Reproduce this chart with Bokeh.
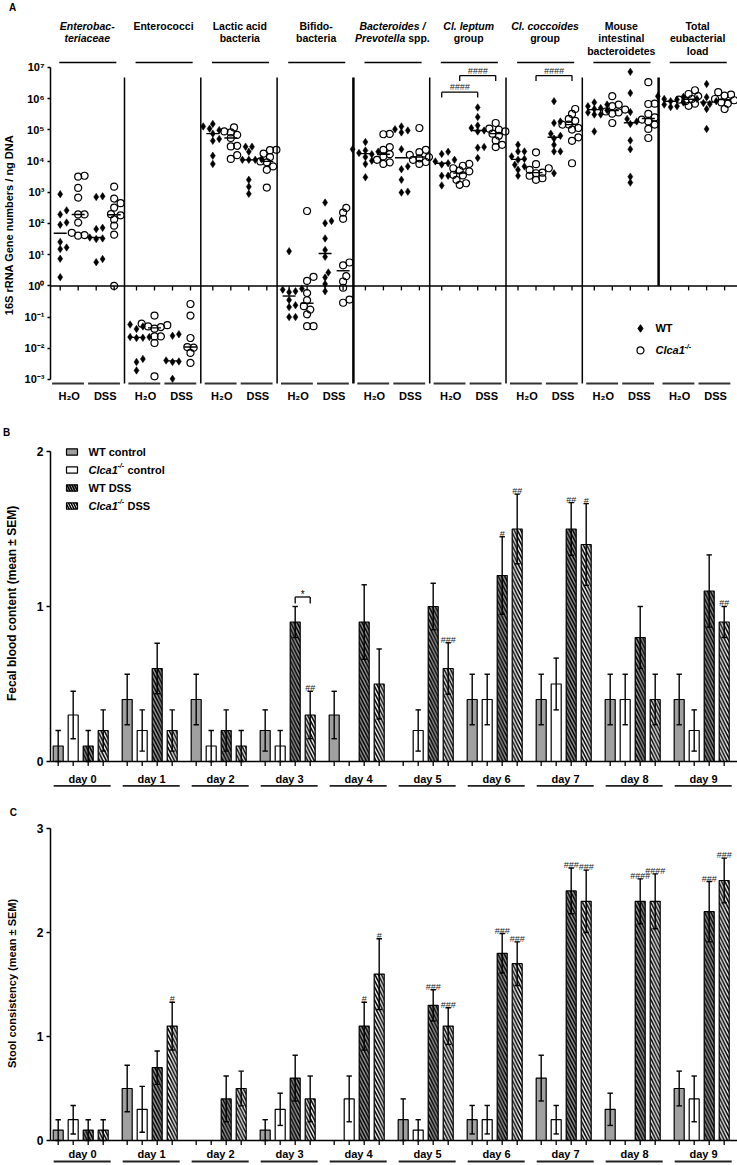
import numpy as np
from bokeh.plotting import figure
from bokeh.layouts import column
from bokeh.models import Range1d, FixedTicker, CustomJSTickFormatter
from bokeh.core.properties import value
from bokeh.embed import file_html
from bokeh.resources import INLINE

FONT = "Liberation Sans"

# ---------------- Panel A data: log10(16S rRNA gene numbers / ng DNA) ----------------
# each taxon: [WT H2O, Clca1-/- H2O, WT DSS, Clca1-/- DSS]
ENTEROBACTERIACEAE = [
    [2.94, 2.42, 2.29, 2.03, 1.96, 1.41, 1.23, 1.18, 0.87, 0.28],
    [3.53, 3.50, 3.14, 2.83, 2.29, 2.29, 2.03, 1.70, 1.63, 1.61],
    [2.87, 2.85, 1.86, 1.82, 1.55, 1.52, 1.50, 0.86, 0.76],
    [3.18, 2.80, 2.65, 2.51, 2.30, 2.26, 2.13, 1.93, 1.64, 0.00],
]
ENTEROCOCCI = [
    [-1.24, -1.30, -1.38, -1.64, -1.64, -1.66, -1.67, -2.34, -2.44, -2.71],
    [-0.95, -1.21, -1.26, -1.30, -1.32, -1.37, -1.62, -1.62, -1.83, -2.90],
    [-1.55, -1.60, -2.39, -2.42, -2.44, -2.98],
    [-0.58, -0.95, -1.67, -1.96, -1.98, -2.15, -2.47],
]
LACTIC_ACID_BACTERIA = [
    [5.19, 5.11, 5.04, 4.99, 4.88, 4.71, 4.65, 4.17, 3.91],
    [5.08, 4.95, 4.92, 4.84, 4.74, 4.49, 4.47, 4.19, 4.07],
    [4.46, 4.46, 4.30, 4.06, 4.04, 4.04, 4.04, 3.40, 3.18, 2.95],
    [4.36, 4.35, 4.24, 4.13, 3.99, 3.96, 3.83, 3.72, 3.15],
]
BIFIDOBACTERIA = [
    [1.11, -0.09, -0.12, -0.17, -0.20, -0.45, -0.62, -0.68, -1.00, -1.00],
    [2.40, 0.29, 0.16, -0.23, -0.46, -0.65, -0.76, -0.91, -1.29, -1.29],
    [2.67, 2.08, 2.01, 1.52, 1.15, 0.93, 0.43, 0.27, 0.06, -0.17],
    [2.50, 2.35, 2.15, 0.75, 0.66, 0.31, 0.14, -0.06, -0.44, -0.54],
]
BACTEROIDES_PREVOTELLA = [
    [4.61, 4.38, 4.34, 4.30, 4.26, 4.22, 4.13, 4.01, 3.91, 3.48],
    [4.87, 4.86, 4.45, 4.36, 4.22, 4.15, 4.04, 3.96, 3.91],
    [5.11, 5.02, 4.98, 4.92, 4.38, 3.83, 3.74, 3.40, 3.02, 2.99],
    [5.06, 4.36, 4.29, 4.20, 4.13, 4.09, 4.04, 3.97, 3.91],
]
CL_LEPTUM = [
    [4.30, 4.23, 4.04, 3.99, 3.93, 3.89, 3.53, 3.53, 3.22],
    [3.91, 3.85, 3.77, 3.70, 3.67, 3.56, 3.54, 3.40, 3.29, 3.24],
    [5.72, 5.41, 5.14, 5.06, 4.98, 4.95, 4.45, 4.43, 4.10],
    [5.22, 5.04, 5.01, 4.95, 4.88, 4.81, 4.66, 4.52, 4.45],
]
CL_COCCOIDES = [
    [4.52, 4.31, 4.31, 4.15, 4.07, 4.04, 3.88, 3.83, 3.72, 3.53],
    [4.28, 3.90, 3.77, 3.72, 3.63, 3.61, 3.53, 3.45, 3.40],
    [5.92, 5.27, 5.22, 4.88, 4.81, 4.72, 4.52, 4.31, 4.31, 3.61],
    [5.67, 5.51, 5.35, 5.29, 5.17, 5.17, 5.06, 5.01, 4.76, 4.65, 3.93],
]
MOUSE_BACTEROIDETES = [
    [5.88, 5.81, 5.76, 5.70, 5.67, 5.63, 5.56, 5.49, 5.49, 4.95],
    [6.08, 5.81, 5.76, 5.65, 5.59, 5.56, 5.52, 5.22],
    [6.86, 6.18, 5.57, 5.35, 5.27, 5.19, 4.66, 4.38, 3.50, 3.31],
    [6.53, 5.84, 5.83, 5.51, 5.40, 5.33, 5.27, 5.17, 5.03, 4.74],
]
TOTAL_EUBACTERIA = [
    [6.08, 6.06, 5.99, 5.97, 5.92, 5.88, 5.81, 5.76, 5.73],
    [6.27, 6.15, 6.08, 5.99, 5.97, 5.92, 5.84, 5.77],
    [6.47, 6.05, 5.99, 5.92, 5.86, 5.83, 5.67, 5.03],
    [6.21, 6.13, 6.10, 5.99, 5.95, 5.88, 5.84, 5.67],
]
TAXA = [ENTEROBACTERIACEAE, ENTEROCOCCI, LACTIC_ACID_BACTERIA, BIFIDOBACTERIA,
        BACTEROIDES_PREVOTELLA, CL_LEPTUM, CL_COCCOIDES, MOUSE_BACTEROIDETES, TOTAL_EUBACTERIA]
TAXON_TITLES = [
    [[("Enterobac-", "bold italic")], [("teriaceae", "bold italic")]],
    [[("Enterococci", "bold")]],
    [[("Lactic acid", "bold")], [("bacteria", "bold")]],
    [[("Bifido-", "bold")], [("bacteria", "bold")]],
    [[("Bacteroides /", "bold italic")], [("Prevotella", "bold italic"), ("spp.", "bold")]],
    [[("Cl. leptum", "bold italic")], [("group", "bold")]],
    [[("Cl. coccoides", "bold italic")], [("group", "bold")]],
    [[("Mouse", "bold")], [("intestinal", "bold")], [("bacteroidetes", "bold")]],
    [[("Total", "bold")], [("eubacterial", "bold")], [("load", "bold")]],
]
CONDITIONS = ["H\u2082O", "DSS"]
Y_TICKS_A = [10.0 ** e for e in range(-3, 8)]
Y_TICK_LABELS_A = ["10\u207b\u00b3", "10\u207b\u00b2", "10\u207b\u00b9", "10\u2070", "10\u00b9",
                   "10\u00b2", "10\u00b3", "10\u2074", "10\u2075", "10\u2076", "10\u2077"]
Y_LABEL_A = "16S rRNA Gene numbers / ng DNA"
# (taxon index, column from, column to, label, tier)
SIG_A = [(5, 0, 2, "####", 0), (5, 1, 3, "####", 1), (6, 1, 3, "####", 1)]

# ---------------- Panels B / C data ----------------
DAYS = ["day 0", "day 1", "day 2", "day 3", "day 4", "day 5", "day 6", "day 7", "day 8", "day 9"]
SERIES = ["WT control", "Clca1 control", "WT DSS", "Clca1 DSS"]

BLOOD_MEAN = [
    [0.1, 0.4, 0.4, 0.2, 0.3, 0.0, 0.4, 0.4, 0.4, 0.4],
    [0.3, 0.2, 0.1, 0.1, 0.0, 0.2, 0.4, 0.5, 0.4, 0.2],
    [0.1, 0.6, 0.2, 0.9, 0.9, 1.0, 1.2, 1.5, 0.8, 1.1],
    [0.2, 0.2, 0.1, 0.3, 0.5, 0.6, 1.5, 1.4, 0.4, 0.9],
]
BLOOD_SEM = [
    [0.1, 0.163, 0.163, 0.133, 0.153, 0.0, 0.163, 0.163, 0.163, 0.163],
    [0.153, 0.133, 0.1, 0.1, 0.0, 0.133, 0.163, 0.167, 0.163, 0.133],
    [0.1, 0.163, 0.133, 0.1, 0.24, 0.15, 0.25, 0.17, 0.2, 0.233],
    [0.133, 0.133, 0.1, 0.153, 0.226, 0.166, 0.225, 0.264, 0.163, 0.1],
]
BLOOD_SIG = [(3, 3, "##"), (5, 3, "###"), (6, 2, "#"), (6, 3, "##"), (7, 2, "##"), (7, 3, "#"), (9, 3, "##")]
BLOOD_BRACKETS = [(3, 2, 3, "*")]
BLOOD_LABEL = "Fecal blood content (mean \u00b1 SEM)"

STOOL_MEAN = [
    [0.1, 0.5, 0.0, 0.1, 0.0, 0.2, 0.2, 0.6, 0.3, 0.5],
    [0.2, 0.3, 0.0, 0.3, 0.4, 0.1, 0.2, 0.2, 0.0, 0.4],
    [0.1, 0.7, 0.4, 0.6, 1.1, 1.3, 1.8, 2.4, 2.3, 2.2],
    [0.1, 1.1, 0.5, 0.4, 1.6, 1.1, 1.7, 2.3, 2.3, 2.5],
]
STOOL_SEM = [
    [0.1, 0.224, 0.0, 0.1, 0.0, 0.2, 0.137, 0.22, 0.155, 0.167],
    [0.137, 0.22, 0.0, 0.155, 0.22, 0.1, 0.137, 0.137, 0.0, 0.22],
    [0.1, 0.16, 0.22, 0.22, 0.23, 0.15, 0.19, 0.22, 0.216, 0.29],
    [0.1, 0.23, 0.167, 0.22, 0.34, 0.176, 0.21, 0.30, 0.264, 0.215],
]
STOOL_SIG = [(1, 3, "#"), (4, 2, "#"), (4, 3, "#"), (5, 2, "###"), (5, 3, "###"), (6, 2, "###"),
             (6, 3, "###"), (7, 2, "###"), (7, 3, "###"), (8, 2, "####"), (8, 3, "####"),
             (9, 2, "###"), (9, 3, "###")]
STOOL_LABEL = "Stool consistency (mean \u00b1 SEM)"

# ---------------- helpers ----------------
W = 737
AXIS_PX = 50  # canvas x of the y axes
CHAR_W = {'a': 556, 'b': 611, 'c': 556, 'd': 611, 'e': 556, 'f': 333, 'g': 611, 'h': 611, 'i': 278,
          'l': 278, 'm': 889, 'n': 611, 'o': 611, 'p': 611, 'r': 389, 's': 556, 't': 333, 'u': 611,
          'v': 556, 'P': 667, '.': 278, ' ': 278}


def text_width(s, size):
    return sum(CHAR_W.get(c, 556) for c in s) * size / 1000.0


def style_y(ax, size):
    ax.fixed_location = 0
    ax.axis_line_width = 1.5
    ax.axis_line_color = "black"
    ax.major_tick_out = 4
    ax.major_tick_in = 0
    ax.major_tick_line_width = 1.5
    ax.major_tick_line_color = "black"
    ax.minor_tick_line_color = None
    ax.major_label_text_font = FONT
    ax.major_label_text_font_style = "bold"
    ax.major_label_text_font_size = size
    ax.major_label_text_color = "black"
    ax.major_label_standoff = 3


def txt(p, x, y, t, size, style="bold", align="center", baseline="middle", color="black", **kw):
    p.text(x=x, y=y, text=t, text_font=value(FONT), text_font_size=value(size),
           text_font_style=style, text_align=align, text_baseline=baseline, text_color=color, **kw)


def swarm(vals, ppd, ppu, diam=5.6, step=3.2):
    order = np.argsort(vals)
    placed = []
    offs = np.zeros(len(vals))
    for i in order:
        yy = vals[i] * ppd
        cand = 0.0
        for j in range(0, 15):
            cand = 0.0 if j == 0 else ((j + 1) // 2) * step * (1 if j % 2 else -1)
            if all((cand - px) ** 2 + (yy - py) ** 2 >= diam ** 2 for px, py in placed):
                break
        placed.append((cand, yy))
        offs[i] = cand / ppu
    return offs


def new_fig(height, xr, yr, **kw):
    p = figure(width=W, height=height, output_backend="svg", toolbar_location=None,
               x_range=Range1d(*xr), y_range=Range1d(*yr), x_axis_location=None,
               min_border_left=0, min_border_right=0, min_border_top=0, min_border_bottom=0, **kw)
    p.outline_line_color = None
    p.grid.visible = False
    return p


# ================= Panel A =================
HA = 410
UA = 18.0                      # px per column unit
XA = (-AXIS_PX / UA, (W - AXIS_PX) / UA)
YA_LO, YA_HI = -3.994, 9.147
GW, C0 = 4.239, 0.539
PPD = HA / (YA_HI - YA_LO)


def colx(g, k):
    return C0 + GW * g + k


pA = new_fig(HA, XA, (10 ** YA_LO, 10 ** YA_HI), y_axis_type="log")
ya = pA.yaxis[0]
ya.ticker = FixedTicker(ticks=Y_TICKS_A, minor_ticks=[])
ya.formatter = CustomJSTickFormatter(args=dict(labels=Y_TICK_LABELS_A),
                                     code="return labels[Math.round(Math.log10(tick)) + 3];")
ya.bounds = (Y_TICKS_A[0], Y_TICKS_A[-1])
style_y(ya, "11px")
ya.major_tick_out = 3

# separators
sep_x = [C0 - 0.667 + GW * (g + 1) for g in range(8)]
sep_bottom = [10 ** -3.13] * 7 + [1.0]
sep_w = [1.5, 1.5, 1.5, 2.5, 1.5, 1.5, 1.5, 2.5]
pA.segment(x0=sep_x, y0=sep_bottom, x1=sep_x, y1=[10 ** 6.68] * 8, line_color="black", line_width=sep_w)
# horizontal axis at 10^0 with ticks
pA.segment(x0=[0], y0=[1.0], x1=[XA[1]], y1=[1.0], line_color="black", line_width=1.5)
tick_x = [colx(g, k) for g in range(9) for k in range(4)]
pA.segment(x0=tick_x, y0=[1.0] * 36, x1=tick_x, y1=[10 ** (-4.5 / PPD)] * 36, line_color="black", line_width=1.3)

# points
wx, wy, cx_, cy_, mx0, mx1, my = [], [], [], [], [], [], []
for g, taxon in enumerate(TAXA):
    for k, vals in enumerate(taxon):
        v = np.array(vals, dtype=float)
        offs = swarm(v, PPD, UA)
        xs = list(colx(g, k) + offs)
        ys = list(10 ** v)
        if k % 2 == 0:
            wx += xs; wy += ys
        else:
            cx_ += xs; cy_ += ys
        med = 10 ** np.median(v)
        mx0.append(colx(g, k) - 0.36); mx1.append(colx(g, k) + 0.36); my.append(med)
pA.segment(x0=mx0, y0=my, x1=mx1, y1=my, line_color="black", line_width=1.4)
pA.scatter(x=wx, y=wy, marker="diamond", size=7.5, fill_color="black", line_color="black", line_width=0.5)
pA.scatter(x=cx_, y=cy_, marker="circle", size=7, fill_color=None, line_color="black", line_width=1.2)

# titles and header lines
hx0 = [colx(g, 0) - 0.05 for g in range(9)]
hx1 = [colx(g, 3) + 0.12 for g in range(9)]
pA.segment(x0=hx0, y0=[10 ** 7.16] * 9, x1=hx1, y1=[10 ** 7.16] * 9, line_color="black", line_width=1.5)
TS = 10.5
for g, lines in enumerate(TAXON_TITLES):
    xc = colx(g, 1.5)
    for i, runs in enumerate(lines):
        yl = 10 ** (8.33 - 0.4006 * i)
        if len(runs) == 1:
            txt(pA, [xc], [yl], [runs[0][0]], "%gpx" % TS, runs[0][1])
        else:
            widths = [text_width(r[0], TS) for r in runs]
            gap = 0.278 * TS
            total = sum(widths) + gap * (len(runs) - 1)
            off = -total / 2
            for (t, st), wdt in zip(runs, widths):
                txt(pA, [xc], [yl], [t], "%gpx" % TS, st, align="left", x_offset=off)
                off += wdt + gap

# condition lines and labels
plx0, plx1, lbx, lbt = [], [], [], []
for g in range(9):
    for c in range(2):
        a, b = colx(g, 2 * c), colx(g, 2 * c + 1)
        plx0.append(a - 0.45); plx1.append(b + 0.32)
        lbx.append((a + b) / 2); lbt.append(CONDITIONS[c])
pA.segment(x0=plx0, y0=[10 ** -3.13] * 18, x1=plx1, y1=[10 ** -3.13] * 18, line_color="#333333", line_width=2)
txt(pA, lbx, [10 ** -3.545] * 18, lbt, "11px", "bold")

# significance brackets
for g, k0, k1, lab, tier in SIG_A:
    lev = [6.21, 6.74][tier]
    xa_, xb_ = colx(g, k0), colx(g, k1)
    pA.segment(x0=[xa_, xa_, xb_], y0=[10 ** lev] * 3, x1=[xb_, xa_, xb_],
               y1=[10 ** lev, 10 ** (lev - 0.17), 10 ** (lev - 0.17)], line_color="black", line_width=1.3)
    txt(pA, [(xa_ + xb_) / 2], [10 ** (lev + 0.15)], [lab], "9px", "italic", color="#222222")

# legend A
lgx = (640 - 50) / UA
pA.scatter(x=[lgx], y=[10 ** -1.365], marker="diamond", size=7.5, fill_color="black", line_color="black")
pA.scatter(x=[lgx], y=[10 ** -2.07], marker="circle", size=7, fill_color=None, line_color="black", line_width=1.2)
txt(pA, [lgx + 0.83], [10 ** -1.365], ["WT"], "11px", "bold", align="left")
txt(pA, [lgx + 0.83], [10 ** -2.07], ["Clca1"], "11px", "bold italic", align="left")
txt(pA, [lgx + 0.83], [10 ** -2.07], ["-/-"], "7px", "bold italic", align="left", x_offset=29, y_offset=-4)

# panel letter and axis title
txt(pA, [(12 - 50) / UA], [10 ** 8.923], ["A"], "10px", "bold")
txt(pA, [(8 - 50) / UA], [10 ** 1.95], [Y_LABEL_A], "11px", "bold", angle=np.pi / 2)

# ================= Panels B / C =================
FILLS = ["#a0a0a0", "white", "#a0a0a0", "white"]
HATCHED = [False, False, True, True]
UB = 15.0
XB = (-AXIS_PX / UB, (W - AXIS_PX) / UB)


def bx(d, k):
    return 0.513 + 4.6 * d + k


def bar_panel(height, y_lo, y_hi, ticks, ylabel, ylabel_size, ylabel_y, means, sems, sigs, brackets,
              lab_px, line_px, letter, letter_xy, legend):
    p = new_fig(height, XB, (y_lo, y_hi))
    ppy = height / (y_hi - y_lo)
    ax = p.yaxis[0]
    ax.ticker = FixedTicker(ticks=ticks, minor_ticks=[])
    ax.bounds = (ticks[0], ticks[-1])
    style_y(ax, "12px")

    for k in range(4):
        xs = [bx(d, k) for d in range(10) if means[k][d] > 0]
        tops = [means[k][d] for d in range(10) if means[k][d] > 0]
        kw = dict(fill_color=FILLS[k], line_color="black", line_width=1.2)
        if HATCHED[k]:
            kw.update(hatch_pattern="\\", hatch_color="black", hatch_weight=1.6, hatch_scale=6.5)
        p.vbar(x=xs, top=tops, bottom=0, width=0.667, **kw)

    sx, s0, s1, cx0, cx1, cy = [], [], [], [], [], []
    for k in range(4):
        for d in range(10):
            m, s = means[k][d], sems[k][d]
            if s <= 0:
                continue
            lo, hi = max(m - s, 0.0), m + s
            x = bx(d, k)
            sx.append(x); s0.append(lo); s1.append(hi)
            for yv in (lo, hi):
                cx0.append(x - 0.18); cx1.append(x + 0.18); cy.append(yv)
    p.segment(x0=sx, y0=s0, x1=sx, y1=s1, line_color="black", line_width=1.4)
    p.segment(x0=cx0, y0=cy, x1=cx1, y1=cy, line_color="black", line_width=1.4)

    # horizontal axis with ticks
    p.segment(x0=[0], y0=[0], x1=[XB[1]], y1=[0], line_color="black", line_width=1.5)
    tx = [bx(d, k) for d in range(10) for k in range(4)]
    p.segment(x0=tx, y0=[0] * 40, x1=tx, y1=[-4.5 / ppy] * 40, line_color="black", line_width=1.3)

    # day labels and underlines
    txt(p, [bx(d, 1.5) + 0.12 for d in range(10)], [-lab_px / ppy] * 10, DAYS, "11px", "bold")
    p.segment(x0=[bx(d, 0) - 0.3 for d in range(10)], y0=[-line_px / ppy] * 10,
              x1=[bx(d, 3) + 0.5 for d in range(10)], y1=[-line_px / ppy] * 10,
              line_color="#222222", line_width=1.8)

    # significance marks
    txt(p, [bx(d, k) for d, k, _ in sigs], [means[k][d] + sems[k][d] for d, k, _ in sigs],
        [t for _, _, t in sigs], "9px", "normal", baseline="bottom", color="#222222", y_offset=2)
    for d, k0, k1, lab in brackets:
        top = max(means[k0][d] + sems[k0][d], means[k1][d] + sems[k1][d])
        lev = top + 9.5 / ppy
        leg = lev - 6.5 / ppy
        xa_, xb_ = bx(d, k0), bx(d, k1)
        p.segment(x0=[xa_, xa_, xb_], y0=[lev] * 3, x1=[xb_, xa_, xb_], y1=[lev, leg, leg],
                  line_color="black", line_width=1.3)
        txt(p, [(xa_ + xb_) / 2], [lev], [lab], "10px", "normal", baseline="bottom", y_offset=3)

    txt(p, [letter_xy[0]], [letter_xy[1]], [letter], "10px", "bold")
    txt(p, [(11 - 50) / UB], [ylabel_y], [ylabel], ylabel_size, "bold", angle=np.pi / 2)

    if legend:
        rows = [ticks[-1] - (0.5 + 18 * i) / ppy for i in range(4)]
        hh = 3.2 / ppy
        for k in range(4):
            kw = dict(fill_color=FILLS[k], line_color="black", line_width=1.2)
            if HATCHED[k]:
                kw.update(hatch_pattern="\\", hatch_color="black", hatch_weight=1.5, hatch_scale=5)
            p.quad(left=[1.067], right=[1.8], bottom=[rows[k] - hh], top=[rows[k] + hh], **kw)
        lx = 2.533
        for k, name in enumerate(SERIES):
            if name.startswith("Clca1"):
                rest = name.split(" ", 1)[1]
                txt(p, [lx], [rows[k]], ["Clca1"], "11px", "bold italic", align="left")
                txt(p, [lx], [rows[k]], ["-/-"], "7px", "bold italic", align="left", x_offset=29, y_offset=-4)
                txt(p, [lx], [rows[k]], [rest], "11px", "bold", align="left", x_offset=39)
            else:
                txt(p, [lx], [rows[k]], [name], "11px", "bold", align="left")
    return p


pB = bar_panel(385, -0.2194, 2.2645, [0, 1, 2], BLOOD_LABEL, "12px", 1.02,
               BLOOD_MEAN, BLOOD_SEM, BLOOD_SIG, BLOOD_BRACKETS, 17.3, 24.3, "B", (-2.93, 2.1226), True)
pC = bar_panel(370, -0.2404, 3.3173, [0, 1, 2, 3], STOOL_LABEL, "11px", 1.51,
               STOOL_MEAN, STOOL_SEM, STOOL_SIG, [], 14.0, 21.0, "C", (-2.47, 3.154), False)

layout = column(pA, pB, pC, spacing=0)
open("out.html", "w").write(file_html(layout, INLINE))
